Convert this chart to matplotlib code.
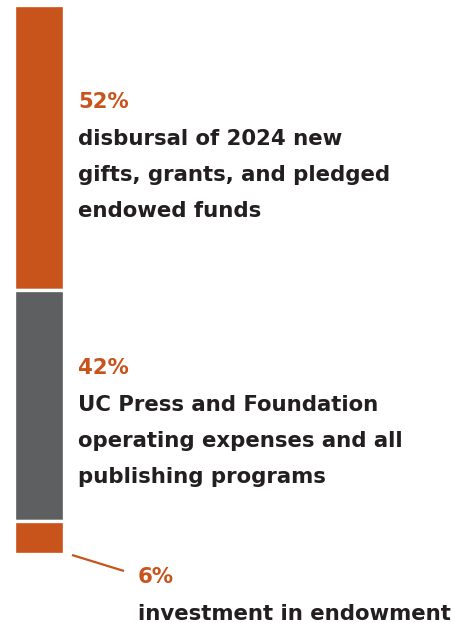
import matplotlib
matplotlib.use('Agg')
import matplotlib.pyplot as plt

# shares of spending, top to bottom
shares = [52, 42, 6]
pct_labels = ['52%', '42%', '6%']
descriptions = [
    'disbursal of 2024 new\ngifts, grants, and pledged\nendowed funds',
    'UC Press and Foundation\noperating expenses and all\npublishing programs',
    'investment in endowment',
]
colors = ['#C8541B', '#5D5F61', '#C8541B']

ORANGE = '#C8541B'
DARK = '#231F20'
FONT = 'DejaVu Sans'
FS = 15.3

W, H = 456, 623
fig = plt.figure(figsize=(W / 100, H / 100), dpi=100)

# bar axes, placed in pixel terms
bx0, bx1, by0, by1 = 14, 64, 5, 554
bar_ax = fig.add_axes([bx0 / W, 1 - by1 / H, (bx1 - bx0) / W, (by1 - by0) / H])
bottom = 0
for val, col in zip(shares, colors):
    bar_ax.bar(0, val, bottom=bottom, width=1.0, color=col,
               edgecolor='white', linewidth=2.4)
    bottom += val
bar_ax.set_xlim(-0.5, 0.5)
bar_ax.set_ylim(sum(shares), 0)
bar_ax.axis('off')
for p in bar_ax.patches:
    p.set_clip_on(False)

# overlay axes for text in pixel coords
ax = fig.add_axes([0, 0, 1, 1])
ax.set_xlim(0, W)
ax.set_ylim(H, 0)
ax.axis('off')

label_x = [78, 78, 138]
pct_base = [108, 374, 583]
line_step = 36

for i in range(len(shares)):
    ax.text(label_x[i], pct_base[i], pct_labels[i], color=ORANGE,
            fontsize=FS, fontweight='bold', family=FONT, va='baseline')
    for j, line in enumerate(descriptions[i].split('\n')):
        ax.text(label_x[i], pct_base[i] + 37 + j * line_step, line, color=DARK,
                fontsize=FS, fontweight='bold', family=FONT, va='baseline')

# leader line from small segment to its label
ax.plot([72, 124], [555, 571], color=ORANGE, linewidth=1.6,
        solid_capstyle='butt')

fig.savefig('out.png', dpi=100)
